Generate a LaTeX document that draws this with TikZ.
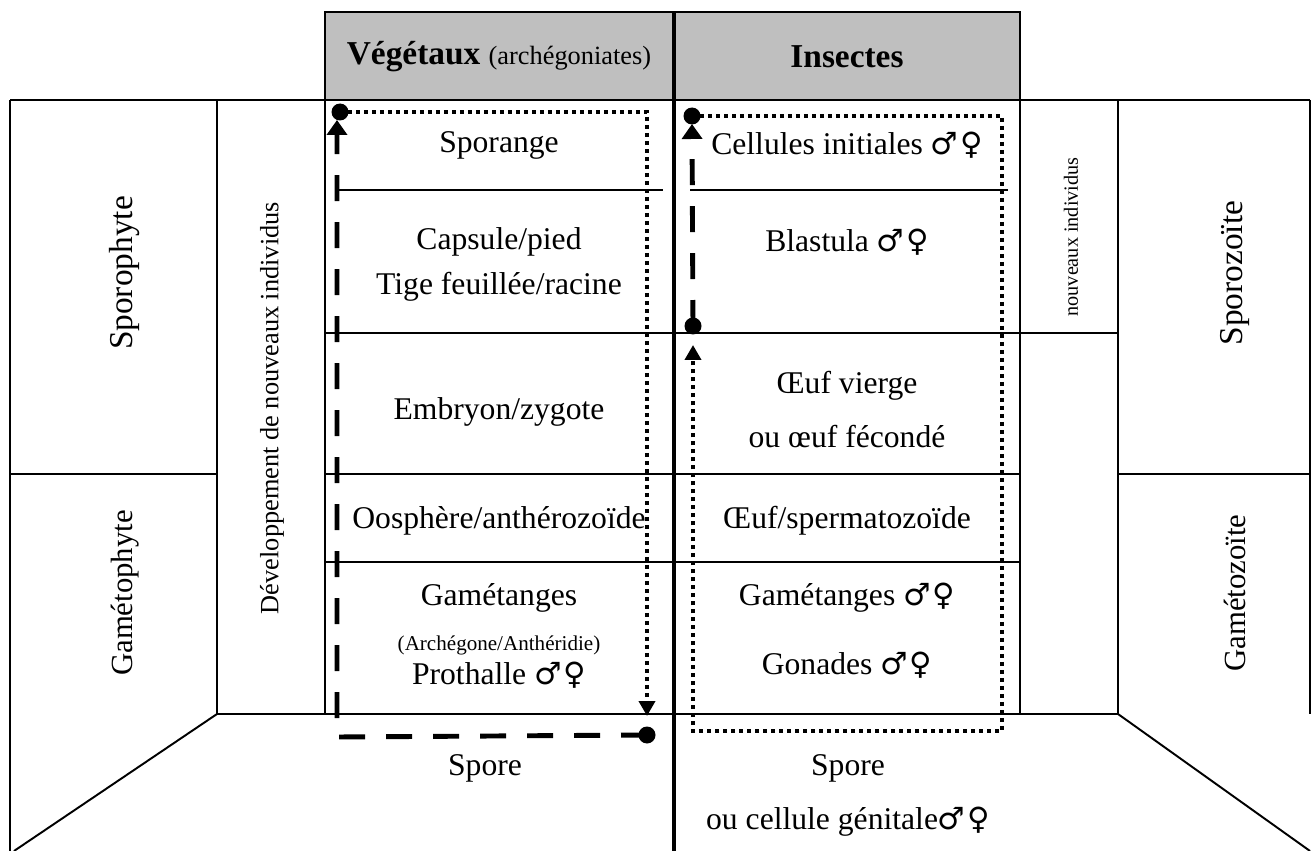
\documentclass[tikz,border=0pt]{standalone}
\usepackage{fontspec}
\setmainfont{Liberation Serif}
\newfontfamily\symfont{DejaVu Sans}
\usetikzlibrary{arrows.meta, positioning, calc}
\definecolor{headgray}{RGB}{191,191,191}
\newcommand{\malefemale}{{\symfont\fontsize{17.5}{18}\selectfont ♂\kern1pt♀}}

\tikzset{
  grid/.style={line width=1.1pt},
  midline/.style={line width=2.8pt},
  celltext/.style={font=\fontsize{18}{21}\selectfont, inner sep=0pt},
  smalltext/.style={font=\fontsize{12}{14}\selectfont, inner sep=0pt},
  sidetext/.style={font=\fontsize{19}{22}\selectfont, rotate=90, inner sep=0pt},
  headtext/.style={font=\fontsize{19}{22}\selectfont, inner sep=0pt},
  cyclepath/.style={line width=2.8pt, dash pattern=on 0.52cm off 0.42cm,
    -{Triangle[length=0.3cm,width=0.4cm]}},
  backpath/.style={line width=2.1pt, dash pattern=on 0.08cm off 0.08cm,
    -{Triangle[length=0.3cm,width=0.32cm]}},
  spot/.style={circle, fill, inner sep=0pt, minimum size=0.34cm},
}

\begin{document}
\begin{tikzpicture}[x=0.02cm, y=-0.02cm]
\useasboundingbox (0,0) rectangle (1312,851);

% en-tete
\fill[headgray] (325,12) rectangle (1020,100);
\draw[grid] (325,12) rectangle (1020,100);
\node[headtext] (vegetaux) at (499,57) {\textbf{Végétaux} {\fontsize{15}{18}\selectfont(archégoniates)}};
\node[headtext] (insectes) at (847,57) {\textbf{Insectes}};

% cadre
\draw[grid] (10,100) -- (1310,100);
\draw[grid] (10,100) -- (10,851);
\draw[grid] (217,100) -- (217,714);
\draw[grid] (10,474) -- (217,474);
\draw[grid] (325,100) -- (325,714);
\draw[grid] (217,714) -- (1118,714);
\draw[grid] (1020,100) -- (1020,714);
\draw[grid] (1118,100) -- (1118,714);
\draw[grid] (1310,100) -- (1310,714);
\draw[grid] (1118,474) -- (1310,474);
\draw[grid] (217,714) -- (14,851);
\draw[grid] (1118,714) -- (1310,851);

% lignes des cellules
\draw[grid] (335,190) -- (663,190);
\draw[grid] (690,190) -- (1008,190);
\draw[grid] (325,333) -- (1118,333);
\draw[grid] (325,474) -- (1020,474);
\draw[grid] (325,562) -- (1020,562);
\draw[midline] (674,12) -- (674,851);

% colonnes laterales
\node[sidetext] (sporophyte) at (125,273) {Sporophyte};
\node[sidetext, font=\fontsize{17.5}{21}\selectfont] (gametophyte) at (125,593) {Gamétophyte};
\node[sidetext, font=\fontsize{15}{18}\selectfont] (devel) at (272,408) {Développement de nouveaux individus};
\node[sidetext, font=\fontsize{11.5}{14}\selectfont] (nouveaux) at (1071,237) {nouveaux individus};
\node[sidetext] (sporozoite) at (1235,273) {Sporozoïte};
\node[sidetext, font=\fontsize{17.5}{21}\selectfont] (gametozoite) at (1235,593) {Gamétozoïte};

% vegetaux
\node[celltext] (sporange) at (499,145) {Sporange};
\node[celltext] (capsule) at (499,242) {Capsule/pied};
\node[celltext] (tige) at (499,287) {Tige feuillée/racine};
\node[celltext] (embryon) at (499,412) {Embryon/zygote};
\node[celltext] (oosphere) at (499,521) {Oosphère/anthérozoïde};
\node[celltext] (gametL) at (499,598) {Gamétanges};
\node[smalltext] (archegone) at (499,645) {(Archégone/Anthéridie)};
\node[celltext] (prothalle) at (499,675) {Prothalle \malefemale};
\node[celltext] (sporeL) at (485,768) {Spore};

% insectes
\node[celltext] (cellules) at (847,145) {Cellules initiales \malefemale};
\node[celltext] (blastula) at (847,242) {Blastula \malefemale};
\node[celltext] (oeufA) at (847,386) {Œuf vierge};
\node[celltext] (oeufB) at (847,437) {ou œuf fécondé};
\node[celltext] (oeufsperm) at (847,521) {Œuf/spermatozoïde};
\node[celltext] (gametR) at (847,598) {Gamétanges \malefemale};
\node[celltext] (gonades) at (847,665) {Gonades \malefemale};
\node[celltext] (sporeR) at (848,768) {Spore};
\node[celltext] (cellgen) at (848,822) {ou cellule génitale\malefemale};

% cycle vegetal
\node[spot] (dotLtop) at (340,112) {};
\node[spot] (dotLbot) at (647,735) {};
\coordinate (vTR) at (647,112);
\coordinate (vEnd) at (647,716);
\coordinate (vBL) at (337,737);
\coordinate (vUp) at (337,120);
\draw[backpath] (dotLtop.center) -- (vTR) -- (vEnd);
\draw[cyclepath] (dotLbot.center) -- (vBL) -- (vUp);

% cycle insecte
\node[spot] (dotRtop) at (692,116) {};
\node[spot] (dotRmid) at (693,326) {};
\coordinate (iTR) at (1002,116);
\coordinate (iBR) at (1002,731);
\coordinate (iBL) at (693,731);
\coordinate (iUp) at (693,345);
\coordinate (iTop) at (692,124);
\draw[backpath] (dotRtop.center) -- (iTR) -- (iBR) -- (iBL) -- (iUp);
\draw[cyclepath] (dotRmid.center) -- (iTop);
\end{tikzpicture}
\end{document}
